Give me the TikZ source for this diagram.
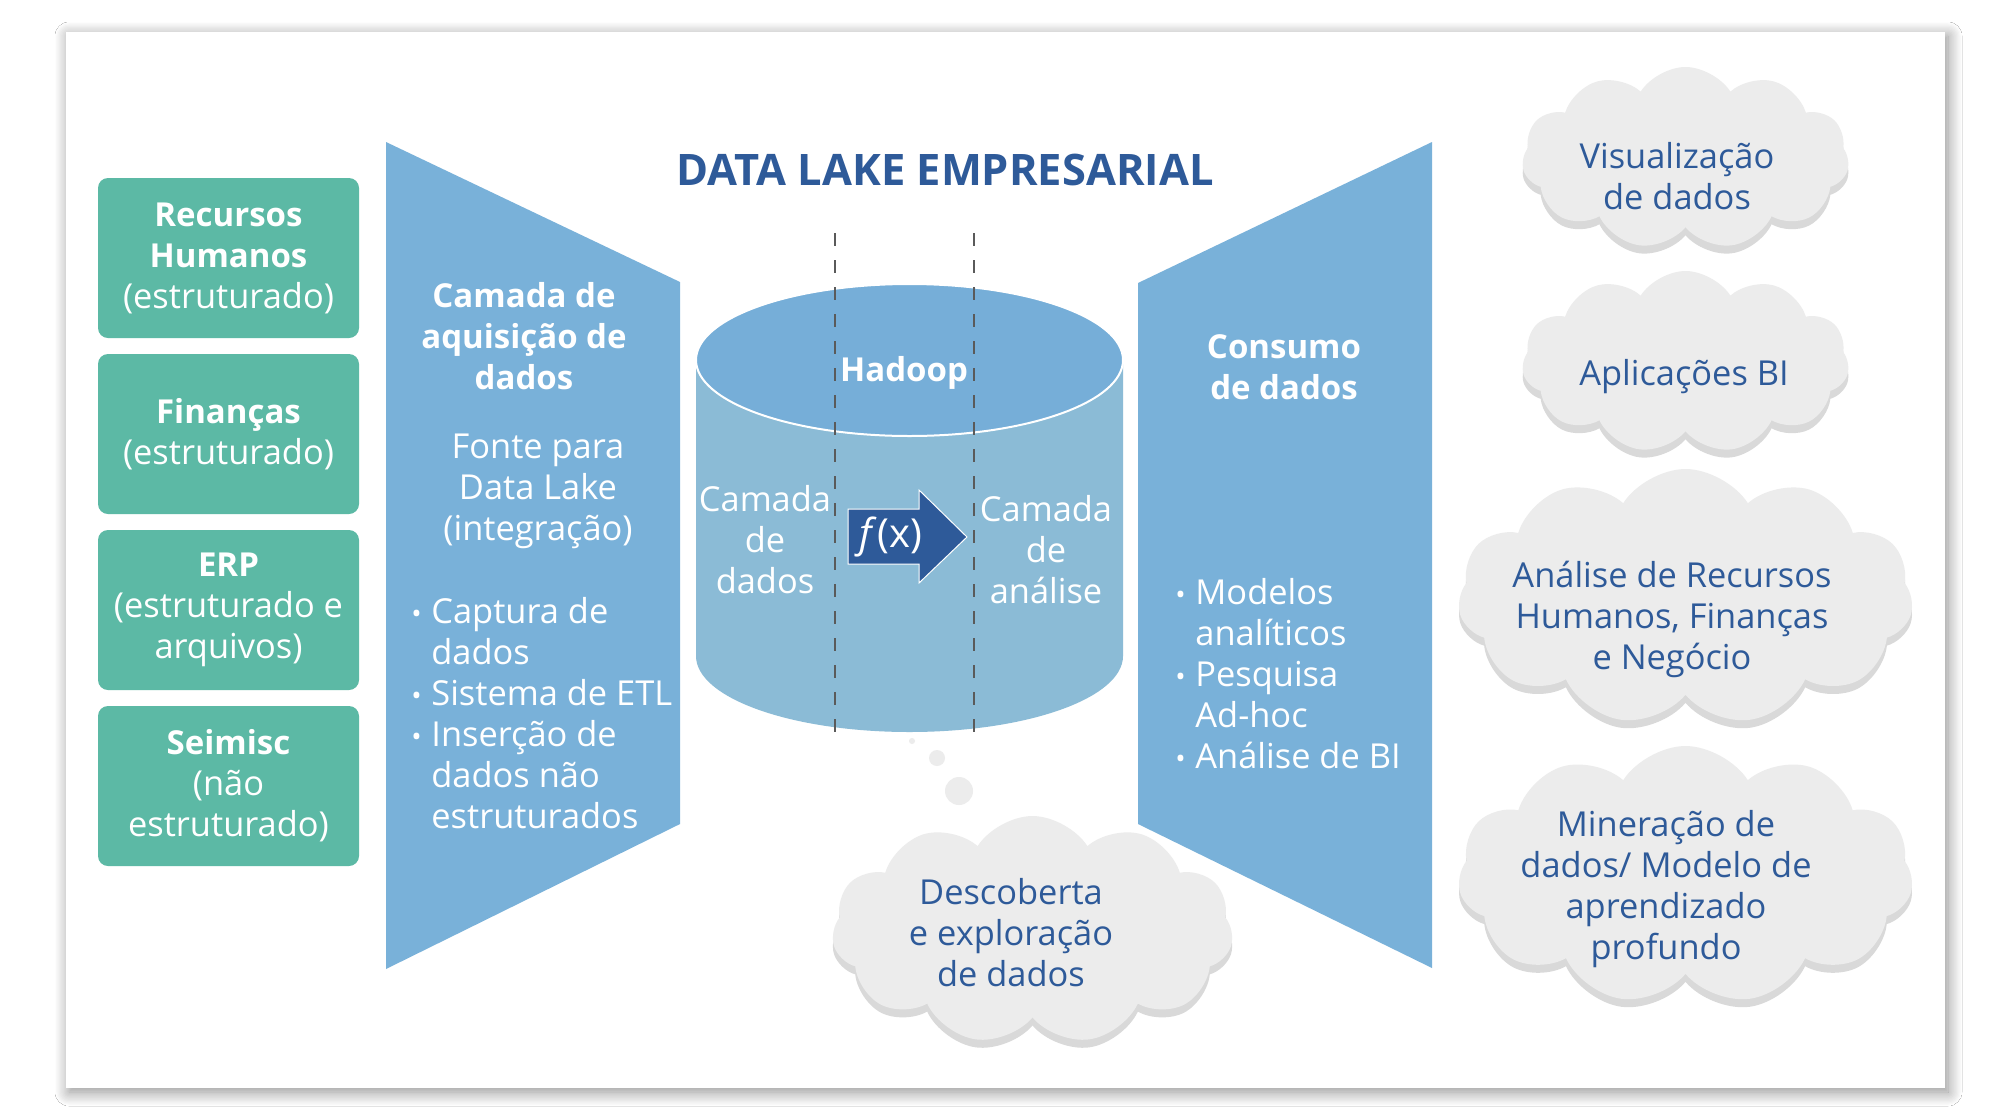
\documentclass[tikz,border=0pt]{standalone}
\usepackage{fontspec}
\setmainfont{Open Sans}
\usetikzlibrary{shapes.geometric,shapes.symbols,shadows.blur}
\definecolor{greenbox}{HTML}{5CB9A5}
\definecolor{trapblue}{HTML}{79B1D9}
\definecolor{cyltop}{HTML}{76AED8}
\definecolor{cylbody}{HTML}{8BBBD6}
\definecolor{darkblue}{HTML}{2E5A99}
\definecolor{cloudfill}{HTML}{ECECEC}
\definecolor{cloudshade}{HTML}{D9D9D9}
\definecolor{dashgray}{HTML}{5A5A5A}
\newcommand\bul{\makebox[10pt][l]{\scalebox{0.8}{•}}}
\newcommand\ind{\hspace*{10pt}}
\newcommand\bt[1]{{\fontsize{16.5pt}{20.5pt}\selectfont\bfseries #1}}
\begin{document}
\begin{tikzpicture}[x=0.5pt,y=-0.5pt,
  txt/.style={font=\fontsize{17.2pt}{20.5pt}\selectfont, align=center, inner sep=0pt},
  wtxt/.style={txt, text=white},
  btxt/.style={txt, text=darkblue},
  srcbox/.style={rectangle, rounded corners=5pt, fill=greenbox, minimum width=130.5pt, minimum height=80pt, inner sep=0pt, text=white, align=center, font=\fontsize{17.2pt}{20.5pt}\selectfont},
  cloudbg/.style={cloud, cloud puffs=11, cloud puff arc=115, cloud ignores aspect, inner sep=0pt},
  dashline/.style={dashgray, line width=1.3pt, dash pattern=on 6.5pt off 7pt},
  bubble/.style={circle, fill=cloudfill, inner sep=0pt}
]
\useasboundingbox (0,0) rectangle (2000,1114);
\fill[white] (0,0) rectangle (2000,1114);
% card
\fill[white, blur shadow={shadow xshift=1.5pt, shadow yshift=-2pt, shadow blur radius=7pt, shadow blur steps=12, shadow opacity=45}] (66,32) rectangle (1945,1088);

% source boxes
\node[srcbox] (hr)  at (228.5,258) {\bt{Recursos}\\\bt{Humanos}\\(estruturado)};
\node[srcbox] (fin) at (228.5,434) {\bt{Finanças}\\(estruturado)};
\node[srcbox] (erp) at (228.5,610) {\bt{ERP}\\(estruturado e\\arquivos)};
\node[srcbox] (sei) at (228.5,786) {\bt{Seimisc}\\(não\\estruturado)};

% trapezoids
\fill[trapblue] (386,142) -- (680,282) -- (680,824) -- (386,969) -- cycle;
\fill[trapblue] (1138,283) -- (1432,142) -- (1432,968) -- (1138,824) -- cycle;

% cylinder
\fill[cylbody] (696,360) -- (696,656) .. controls (696,698) and (791.5,732) .. (909.5,732)
  .. controls (1027.5,732) and (1123,698) .. (1123,656) -- (1123,360) -- cycle;
\node[ellipse, minimum width=213.5pt, minimum height=76pt, inner sep=0pt, fill=cyltop, draw=white, line width=1pt] (top) at (909.5,360) {};

% dashed lines
\coordinate (d1t) at (835,233); \coordinate (d1b) at (835,735);
\coordinate (d2t) at (974,233); \coordinate (d2b) at (974,735);
\draw[dashline] (d1t) -- (d1b);
\draw[dashline] (d2t) -- (d2b);

% f(x) arrow
\fill[darkblue, draw=white, line width=0.5pt] (848,509) -- (919,509) -- (919,490) -- (967,537) -- (919,583) -- (919,564) -- (848,564) -- cycle;
\node[wtxt, font=\fontsize{20pt}{21pt}\selectfont] (fx) at (891,537) {\textit{f}(x)};

% title
\node[txt, text=darkblue, font=\bfseries\fontsize{21.7pt}{24pt}\selectfont] (title) at (945,170) {DATA LAKE EMPRESARIAL};

% left layer text
\node[wtxt] (acq) at (524,336) {\bt{Camada de}\\\bt{aquisição de}\\\bt{dados}};
\node[wtxt] (fonte) at (538,491) {Fonte para\\Data Lake\\(integração)};
\node[wtxt, align=left, anchor=west] (acqlist) at (411,713) {\bul Captura de\\\ind dados\\\bul Sistema de ETL\\\bul Inserção de\\\ind dados não\\\ind estruturados};

% cylinder text
\node[wtxt, font=\bfseries\fontsize{16.5pt}{20.5pt}\selectfont] (hadoop) at (904,373) {Hadoop};
\node[wtxt] (cdados) at (765,540) {Camada\\de\\dados};
\node[wtxt] (canal) at (1046,550) {Camada\\de\\análise};

% right layer text
\node[wtxt] (cons) at (1284,367) {\bt{Consumo}\\\bt{de dados}};
\node[wtxt, align=left, anchor=west] (conslist) at (1175,674) {\bul Modelos\\\ind analíticos\\\bul Pesquisa\\\ind Ad-hoc\\\bul Análise de BI};

% bubbles
\node[bubble, minimum size=3pt] (b1) at (912,741) {};
\node[bubble, minimum size=8pt] (b2) at (937,758) {};
\node[bubble, minimum size=14pt] (b3) at (959,791) {};

% clouds
\node[cloudbg, fill=cloudshade, minimum width=163.5pt, minimum height=91pt] (c1s) at (1685.5,166) {};
\node[cloudbg, fill=cloudfill, minimum width=163.5pt, minimum height=91pt] (c1) at (1685.5,158) {};
\node[btxt] (t1) at (1677,176) {Visualização\\de dados};

\node[cloudbg, fill=cloudshade, minimum width=163.5pt, minimum height=91pt] (c2s) at (1685.5,370) {};
\node[cloudbg, fill=cloudfill, minimum width=163.5pt, minimum height=91pt] (c2) at (1685.5,362) {};
\node[btxt] (t2) at (1684,377) {Aplicações BI};

\node[cloudbg, fill=cloudshade, minimum width=227.5pt, minimum height=128pt] (c3s) at (1685.5,605) {};
\node[cloudbg, fill=cloudfill, minimum width=227.5pt, minimum height=128pt] (c3) at (1685.5,597) {};
\node[btxt] (t3) at (1672,619) {Análise de Recursos\\Humanos, Finanças\\e Negócio};

\node[cloudbg, fill=cloudshade, minimum width=227.5pt, minimum height=129pt] (c4s) at (1685.5,883) {};
\node[cloudbg, fill=cloudfill, minimum width=227.5pt, minimum height=129pt] (c4) at (1685.5,875) {};
\node[btxt] (t4) at (1666,889) {Mineração de\\dados/ Modelo de\\aprendizado\\profundo};

\node[cloudbg, fill=cloudshade, minimum width=200.5pt, minimum height=114pt] (c5s) at (1032.5,938) {};
\node[cloudbg, fill=cloudfill, minimum width=200.5pt, minimum height=114pt] (c5) at (1032.5,930) {};
\node[btxt] (t5) at (1011,933) {Descoberta\\e exploração\\de dados};
\end{tikzpicture}
\end{document}
